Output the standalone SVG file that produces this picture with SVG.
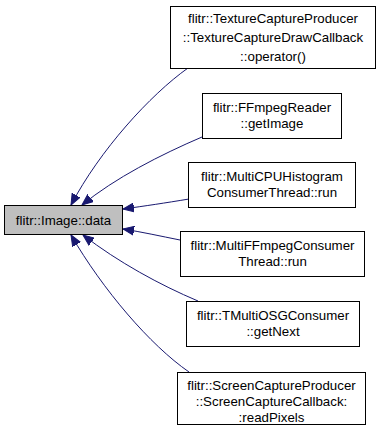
<svg xmlns="http://www.w3.org/2000/svg" width="379" height="440" viewBox="0 0 379 440">
  <style>
    .node rect { fill: #ffffff; stroke: #000000; stroke-width: 1; }
    .node.root rect { fill: #bfbfbf; }
    .node text { font-family: "Liberation Sans", Arial, sans-serif; font-size: 13.3px; fill: #000000; text-anchor: middle; }
    .edge { fill: none; stroke: #191970; stroke-width: 1; }
  </style>
  <defs>
    <marker id="arrow" markerUnits="userSpaceOnUse" markerWidth="12" markerHeight="10" refX="11" refY="5" orient="auto">
      <polygon points="0,0.5 11,5 0,9.5" fill="#191970" stroke="#191970" stroke-width="1"/>
    </marker>
  </defs>

  <!-- caller edges pointing back into flitr::Image::data -->
  <g id="edges">
    <path class="edge" marker-end="url(#arrow)" d="M188,68 C150,95 100,150 71,205"/>
    <path class="edge" marker-end="url(#arrow)" d="M202,137 C160,155 115,178 82,205"/>
    <path class="edge" marker-end="url(#arrow)" d="M189,199 C165,203 145,206 123,209"/>
    <path class="edge" marker-end="url(#arrow)" d="M180,240 C160,236 142,232 123,229"/>
    <path class="edge" marker-end="url(#arrow)" d="M198,301 C160,285 118,262 83,235"/>
    <path class="edge" marker-end="url(#arrow)" d="M189,372 C150,345 103,290 71,235"/>
  </g>

  <g id="node-image-data" class="node root">
    <rect x="4.5" y="205.5" width="118" height="29"/>
    <text x="63.5" y="224.5">flitr::Image::data</text>
  </g>

  <g id="node-texture-capture" class="node">
    <rect x="170.5" y="6.5" width="205" height="62"/>
    <text x="273" y="23">flitr::TextureCaptureProducer</text>
    <text x="273" y="42">::TextureCaptureDrawCallback</text>
    <text x="273" y="61">::operator()</text>
  </g>

  <g id="node-ffmpeg-reader" class="node">
    <rect x="202.5" y="93.5" width="139" height="45"/>
    <text x="272" y="112">flitr::FFmpegReader</text>
    <text x="272" y="128">::getImage</text>
  </g>

  <g id="node-multicpu-histogram" class="node">
    <rect x="188.5" y="162.5" width="167" height="45"/>
    <text x="272" y="181">flitr::MultiCPUHistogram</text>
    <text x="272" y="197">ConsumerThread::run</text>
  </g>

  <g id="node-multiffmpeg-consumer" class="node">
    <rect x="180.5" y="231.5" width="184" height="45"/>
    <text x="272.5" y="250">flitr::MultiFFmpegConsumer</text>
    <text x="272.5" y="266">Thread::run</text>
  </g>

  <g id="node-tmultiosg-consumer" class="node">
    <rect x="186.5" y="301.5" width="173" height="45"/>
    <text x="273" y="320">flitr::TMultiOSGConsumer</text>
    <text x="273" y="336">::getNext</text>
  </g>

  <g id="node-screen-capture" class="node">
    <rect x="177.5" y="372.5" width="188" height="52"/>
    <text x="271.5" y="390">flitr::ScreenCaptureProducer</text>
    <text x="271.5" y="406">::ScreenCaptureCallback:</text>
    <text x="271.5" y="422">:readPixels</text>
  </g>
</svg>
